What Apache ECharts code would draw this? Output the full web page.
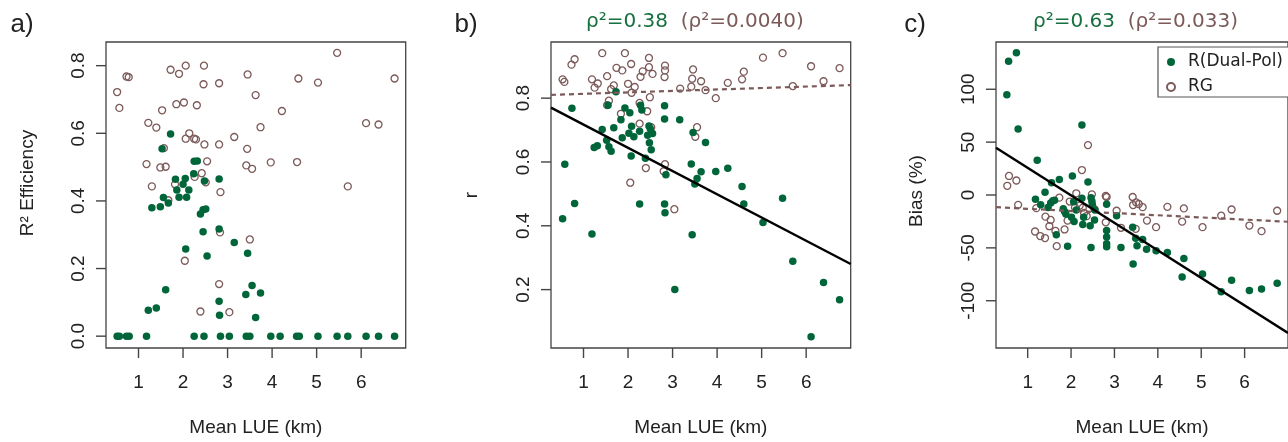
<!DOCTYPE html>
<html>
<head>
<meta charset="utf-8">
<script src="https://cdn.jsdelivr.net/npm/echarts@6/dist/echarts.min.js"></script>
<style>
html,body{margin:0;padding:0;background:#fff;}
#chart{width:1288px;height:442px;}
</style>
</head>
<body>
<div id="chart"></div>
<script>
// ---------------- DATA ----------------
const xTicks = [1, 2, 3, 4, 5, 6];
const yTicksA = [0, 0.2, 0.4, 0.6, 0.8];
const yTicksB = [0.2, 0.4, 0.6, 0.8];
const yTicksC = [-100, -50, 0, 50, 100];
const panelLetters = ['a)', 'b)', 'c)'];
const yNames = ['R\u00B2 Efficiency', 'r', 'Bias (%)'];
const xName = 'Mean LUE (km)';
const seriesNames = ['R(Dual-Pol)', 'RG'];
const titleB = ['\u03C1\u00B2=0.38', '(\u03C1\u00B2=0.0040)'];
const titleC = ['\u03C1\u00B2=0.63', '(\u03C1\u00B2=0.033)'];

// panel a: R^2 efficiency vs mean LUE
const effDual = [
 [0.52,0],[0.57,0],[0.73,0],[0.79,0],[1.18,0],[2.25,0],[2.47,0],[2.84,0],[3.04,0],[3.42,0],[3.50,0],
 [3.97,0],[4.18,0],[4.55,0],[4.61,0],[5.03,0],[5.46,0],[5.70,0],[6.11,0],[6.39,0],[6.75,0],
 [1.72,0.598],[1.53,0.554],[2.25,0.517],[2.32,0.518],[1.83,0.464],[2.05,0.466],[2.24,0.48],[2.48,0.459],
 [2.81,0.465],[1.86,0.432],[2.00,0.449],[2.13,0.432],[1.91,0.411],[2.08,0.411],[1.56,0.41],[1.67,0.394],
 [1.49,0.383],[1.30,0.38],[2.45,0.374],[2.51,0.376],[2.39,0.361],[2.45,0.309],[2.81,0.317],[3.15,0.277],
 [2.06,0.258],[2.54,0.237],[3.45,0.245],[1.61,0.137],[3.55,0.150],[3.41,0.123],[3.74,0.128],[1.22,0.077],
 [1.40,0.083],[2.81,0.103],[2.82,0.062],[3.63,0.055]
];
const effRg = [
 [0.52,0.722],[0.57,0.675],[0.73,0.768],[0.78,0.766],[1.72,0.788],[1.91,0.776],[2.06,0.8],[2.47,0.8],
 [2.46,0.745],[2.81,0.748],[3.45,0.774],[3.63,0.713],[4.22,0.666],[1.53,0.668],[1.85,0.686],[2.02,0.691],
 [2.31,0.683],[1.22,0.631],[1.40,0.617],[3.74,0.618],[2.14,0.600],[2.06,0.584],[2.25,0.584],[2.29,0.582],
 [2.48,0.567],[2.81,0.567],[3.15,0.589],[3.44,0.554],[1.57,0.556],[1.18,0.509],[1.49,0.499],[1.61,0.501],
 [2.54,0.517],[2.42,0.482],[2.26,0.471],[3.42,0.505],[3.55,0.495],[3.97,0.514],[1.30,0.443],[1.82,0.449],
 [2.51,0.455],[2.84,0.426],[1.67,0.402],[2.83,0.307],[3.50,0.286],[2.04,0.223],[2.81,0.154],[2.39,0.073],
 [3.04,0.071],[5.46,0.838],[4.59,0.762],[5.03,0.750],[6.75,0.762],[4.56,0.515],[6.11,0.630],[6.39,0.626],
 [5.70,0.443]
];

// panel b: correlation r vs mean LUE
const rDual = [
 [0.74,0.768],[0.58,0.593],[0.53,0.422],[0.80,0.470],[1.19,0.374],[1.24,0.645],[1.31,0.651],[1.42,0.702],
 [1.52,0.668],[1.57,0.648],[1.62,0.634],[1.68,0.707],[1.55,0.778],[1.73,0.820],[1.84,0.732],[1.87,0.676],
 [1.93,0.769],[2.04,0.754],[2.02,0.690],[2.08,0.712],[2.07,0.619],[2.13,0.679],[2.26,0.696],[2.28,0.778],
 [2.31,0.763],[2.47,0.713],[2.50,0.704],[2.55,0.689],[2.44,0.684],[2.48,0.660],[2.52,0.638],[2.39,0.612],
 [2.26,0.468],[2.82,0.776],[2.82,0.735],[2.85,0.560],[2.82,0.468],[2.83,0.441],[3.16,0.732],[3.05,0.200],
 [3.46,0.692],[3.42,0.594],[3.44,0.372],[3.74,0.661],[3.64,0.569],[3.55,0.548],[3.50,0.531],[3.97,0.570],
 [4.24,0.580],[4.56,0.523],[4.60,0.468],[5.03,0.410],[5.47,0.486],[5.70,0.289],[6.39,0.222],[6.75,0.168],
 [6.11,0.052]
];
const rRg = [
 [0.53,0.859],[0.57,0.851],[0.73,0.905],[0.80,0.922],[1.19,0.859],[1.32,0.846],[1.25,0.833],[1.42,0.941],
 [1.53,0.869],[1.68,0.840],[1.62,0.828],[1.74,0.895],[1.87,0.887],[1.93,0.941],[2.07,0.907],[2.00,0.845],
 [2.08,0.817],[2.15,0.835],[2.28,0.867],[2.33,0.884],[2.47,0.926],[2.47,0.897],[2.55,0.876],[2.83,0.902],
 [2.83,0.887],[2.82,0.866],[2.49,0.803],[1.53,0.778],[1.57,0.792],[1.84,0.751],[2.26,0.785],[2.43,0.759],
 [2.26,0.720],[2.52,0.709],[2.05,0.535],[2.40,0.581],[2.83,0.593],[2.80,0.571],[3.04,0.452],[3.46,0.890],
 [3.44,0.861],[3.17,0.830],[3.42,0.836],[3.55,0.709],[3.51,0.679],[3.64,0.853],[3.74,0.825],[3.97,0.800],
 [4.24,0.848],[4.60,0.883],[4.56,0.859],[5.03,0.927],[5.47,0.941],[5.70,0.838],[6.11,0.900],[6.39,0.853],
 [6.75,0.894]
];

// panel c: bias (%) vs mean LUE
const biasDual = [
 [0.56,126.4],[0.74,134.5],[0.52,94.7],[0.78,62.4],[1.22,32.9],[2.25,66.1],[1.55,11.5],[1.73,14.6],
 [2.03,18.0],[2.39,12.4],[1.40,2.5],[1.18,-4.0],[1.30,-9.3],[1.47,-11.8],[1.53,-7.5],[1.58,-5.5],
 [1.62,-5.0],[1.82,-13.0],[1.85,-15.5],[1.88,-18.0],[2.06,-6.5],[2.12,-14.3],[2.01,-21.0],[2.07,-25.0],
 [2.25,-3.0],[2.29,-21.0],[2.27,-28.0],[2.46,-2.5],[2.48,-6.0],[2.49,-9.0],[2.44,-29.0],[2.54,-23.6],
 [1.66,-37.6],[1.92,-48.4],[2.46,-49.7],[2.55,-14.3],[2.82,-8.7],[2.82,-33.5],[2.82,-39.8],[2.82,-46.0],
 [2.82,-49.0],[3.05,-19.6],[3.15,-49.7],[3.42,-30.4],[3.43,-65.2],[3.49,-41.0],[3.52,-48.0],[3.65,-42.2],
 [3.74,-51.2],[3.96,-52.8],[4.22,-54.3],[4.60,-60.0],[4.56,-77.6],[5.03,-74.8],[5.46,-91.6],[5.70,-80.7],
 [6.11,-90.4],[6.39,-88.8],[6.75,-83.5]
];
const biasRg = [
 [0.57,18.0],[0.53,8.7],[0.74,13.7],[0.78,-9.3],[1.20,-12.4],[1.73,-2.5],[1.41,-20.5],[1.53,-23.6],
 [1.50,-29.5],[1.64,-34.0],[1.85,-32.6],[1.17,-34.5],[1.29,-38.8],[1.40,-40.7],[1.67,-48.4],[2.25,23.6],
 [2.39,47.2],[2.12,1.6],[2.48,0.6],[1.97,-6.2],[2.09,-11.8],[1.92,-24.2],[2.20,-10.0],[2.27,-12.0],
 [2.30,-17.0],[2.36,-20.0],[2.54,-13.4],[2.80,-0.9],[2.80,-25.8],[2.82,-1.9],[3.05,-14.9],[3.15,-31.0],
 [3.42,-1.9],[3.43,-9.5],[3.50,-7.0],[3.56,-8.5],[3.65,-11.5],[3.49,-32.0],[3.75,-24.2],[3.96,-30.4],
 [4.22,-11.2],[4.56,-25.2],[4.60,-12.7],[5.03,-30.4],[5.46,-19.6],[5.70,-13.7],[6.11,-28.9],[6.39,-34.2],
 [6.75,-14.9]
];

// fitted lines [intercept, slope]
const fitDualB = [0.790, -0.0728];
const fitRgB = [0.809, 0.00455];
const fitDualC = [51.8, -26.04];
const fitRgC = [-11.0, -2.04];

// axis ranges
const xRange = [0.27, 7.0];
const yRangeA = [-0.035, 0.87];
const yRangeB = [0.017, 0.976];
const yRangeC = [-144.7, 144.7];

// ---------------- STYLE ----------------
const GREEN = '#00663a';
const BROWN = '#7d5a5a';
const AXIS = '#444';
const TXT = '#222';
const tickFont = 'Liberation Sans';
const TICK_LEN = 10;
const TICK_W = 1.4;
const gridPos = [
  {left: 106, top: 42, width: 299.7, height: 311},
  {left: 551, top: 42, width: 299.7, height: 311},
  {left: 996, top: 42, width: 299.7, height: 311}
];
const yRanges = [yRangeA, yRangeB, yRangeC];
const yTickSets = [yTicksA, yTicksB, yTicksC];

function lineEnds(fit) {
  return [[xRange[0], fit[0] + fit[1] * xRange[0]], [xRange[1], fit[0] + fit[1] * xRange[1]]];
}

function xAxisFor(i) {
  return {
    gridIndex: i, type: 'value', min: xRange[0], max: xRange[1], position: 'bottom',
    name: xName, nameLocation: 'middle', nameGap: 70,
    nameTextStyle: {fontFamily: tickFont, fontSize: 19, color: TXT},
    axisLine: {show: false, onZero: false},
    axisTick: {show: false},
    axisLabel: {show: true, customValues: xTicks, margin: 25, fontFamily: tickFont, fontSize: 19, color: TXT},
    splitLine: {show: false}
  };
}
function yAxisFor(i, fmt) {
  return {
    gridIndex: i, type: 'value', min: yRanges[i][0], max: yRanges[i][1], position: 'left',
    axisLine: {show: false, onZero: false},
    axisTick: {show: false},
    axisLabel: {show: true, customValues: yTickSets[i], rotate: 90, margin: 18, fontFamily: tickFont, fontSize: 19, color: TXT,
      formatter: fmt},
    splitLine: {show: false}
  };
}

function dualSeries(data, i) {
  return {name: seriesNames[0], type: 'scatter', xAxisIndex: i, yAxisIndex: i, data: data,
    symbol: 'circle', symbolSize: 7.5, itemStyle: {color: GREEN, opacity: 1}, z: 3, animation: false};
}
function rgSeries(data, i) {
  return {name: seriesNames[1], type: 'scatter', xAxisIndex: i, yAxisIndex: i, data: data,
    symbol: 'circle', symbolSize: 7, itemStyle: {color: 'rgba(255,255,255,0)', borderColor: BROWN, borderWidth: 1.3, opacity: 1}, z: 2, animation: false};
}
function fitSeries(fit, i, solid) {
  return {type: 'line', xAxisIndex: i, yAxisIndex: i, data: lineEnds(fit), symbol: 'none', silent: true,
    clip: true, z: 4, animation: false,
    lineStyle: solid ? {color: '#000', width: 2.4} : {color: BROWN, width: 2.2, type: [5, 4]}};
}
// tick marks as thin rect symbols placed on the axes' scales, offset outward
function xTickMarks(i) {
  return {type: 'scatter', xAxisIndex: i, yAxisIndex: i, silent: true, animation: false, clip: false, z: 6,
    data: xTicks.map(v => [v, yRanges[i][0]]),
    symbol: 'rect', symbolKeepAspect: false, symbolSize: [TICK_W, TICK_LEN], symbolOffset: [0, TICK_LEN / 2],
    itemStyle: {color: AXIS, opacity: 1}, emphasis: {disabled: true}, tooltip: {show: false}};
}
function yTickMarks(i) {
  return {type: 'scatter', xAxisIndex: i, yAxisIndex: i, silent: true, animation: false, clip: false, z: 6,
    data: yTickSets[i].map(v => [xRange[0], v]),
    symbol: 'rect', symbolKeepAspect: false, symbolSize: [TICK_LEN, TICK_W], symbolOffset: [-TICK_LEN / 2, 0],
    itemStyle: {color: AXIS, opacity: 1}, emphasis: {disabled: true}, tooltip: {show: false}};
}

const graphics = [];
const letterX = [22, 466, 915];
panelLetters.forEach((t, i) => graphics.push({type: 'text', x: letterX[i], y: 25,
  style: {text: t, font: '26px "Liberation Sans"', fill: TXT, textAlign: 'center', textVerticalAlign: 'middle'}}));
const yNameX = [28, 472, 917];
const yNameY = [183, 195, 191];
yNames.forEach((t, i) => graphics.push({type: 'text', x: yNameX[i], y: yNameY[i], rotation: Math.PI / 2,
  style: {text: t, font: '19px "Liberation Sans"', fill: TXT, textAlign: 'center', textVerticalAlign: 'middle'}}));
function titleGraphic(parts, x) {
  return {type: 'text', x: x, y: 22, style: {
    text: '{g|' + parts[0] + '}  {b|' + parts[1] + '}',
    textVerticalAlign: 'middle',
    font: '20px "DejaVu Sans"',
    rich: {g: {fill: '#17703f', font: '20px "DejaVu Sans"'}, b: {fill: BROWN, font: '20px "DejaVu Sans"'}}
  }};
}
graphics.push(titleGraphic(titleB, 586));
graphics.push(titleGraphic(titleC, 1033));

const option = {
  backgroundColor: '#fff',
  animation: false,
  grid: gridPos.map(g => Object.assign({show: true, borderColor: AXIS, borderWidth: 1.3, backgroundColor: 'transparent'}, g)),
  xAxis: [xAxisFor(0), xAxisFor(1), xAxisFor(2)],
  yAxis: [
    yAxisFor(0, v => v.toFixed(1)),
    yAxisFor(1, v => v.toFixed(1)),
    yAxisFor(2, v => String(Math.round(v)))
  ],
  legend: {
    show: true, orient: 'vertical', left: 1158, top: 47,
    data: [{name: seriesNames[0]}, {name: seriesNames[1]}],
    itemWidth: 8, itemHeight: 8, itemGap: 7,
    padding: [6, 20, 1, 8],
    borderColor: '#555', borderWidth: 1.2, backgroundColor: '#fff',
    selectedMode: false,
    textStyle: {fontFamily: 'DejaVu Sans', fontSize: 17, color: TXT, lineHeight: 18, padding: [0, 0, 0, 8]}
  },
  graphic: graphics,
  series: [
    rgSeries(effRg, 0), dualSeries(effDual, 0),
    rgSeries(rRg, 1), dualSeries(rDual, 1), fitSeries(fitRgB, 1, false), fitSeries(fitDualB, 1, true),
    rgSeries(biasRg, 2), dualSeries(biasDual, 2), fitSeries(fitRgC, 2, false), fitSeries(fitDualC, 2, true),
    xTickMarks(0), xTickMarks(1), xTickMarks(2),
    yTickMarks(0), yTickMarks(1), yTickMarks(2)
  ]
};
const chart = echarts.init(document.getElementById('chart'), null, {renderer: 'canvas'});
chart.setOption(option);
</script>
</body>
</html>
